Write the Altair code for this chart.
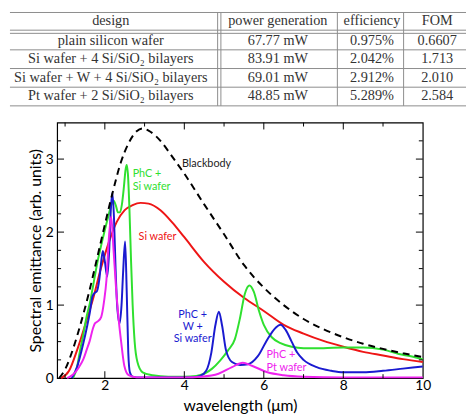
import altair as alt
import pandas as pd

# ---------------- table content ----------------
table_headers = ["design", "power generation", "efficiency", "FOM"]
design = ["plain silicon wafer",
          "Si wafer + 4 Si/SiO\u2082 bilayers",
          "Si wafer + W + 4 Si/SiO\u2082 bilayers",
          "Pt wafer + 2 Si/SiO\u2082 bilayers"]
power = ["67.77 mW", "83.91 mW", "69.01 mW", "48.85 mW"]
efficiency = ["0.975%", "2.042%", "2.912%", "5.289%"]
fom = ["0.6607", "1.713", "2.010", "2.584"]

# ---------------- spectra ----------------
bb_x = [0.85, 1.0, 1.2, 1.4, 1.6, 1.8, 2.0, 2.2, 2.4, 2.6, 2.8, 2.95, 3.1, 3.4, 3.7, 4.0,
        4.5, 5.0, 5.5, 6.0, 6.5, 7.0, 7.5, 8.0, 8.5, 9.0, 9.5, 10.0]
bb_y = [0.0, 0.12, 0.40, 0.76, 1.17, 1.63, 2.1, 2.55, 2.95, 3.22, 3.38, 3.42, 3.39, 3.25, 3.03, 2.80,
        2.38, 1.97, 1.55, 1.24, 1.0, 0.81, 0.67, 0.56, 0.47, 0.40, 0.34, 0.29]

si_x = [0.9, 1.1, 1.3, 1.5, 1.7, 1.9, 2.1, 2.3, 2.5, 2.7, 2.9, 3.1, 3.4, 3.7, 4.0, 4.5,
        5.0, 5.5, 6.0, 6.5, 7.0, 7.5, 8.0, 8.5, 9.0, 9.5, 10.0]
si_y = [0.0, 0.1, 0.38, 0.72, 1.08, 1.5, 1.86, 2.14, 2.30, 2.37, 2.40, 2.39, 2.30, 2.13, 1.93, 1.59,
        1.32, 1.10, 0.92, 0.73, 0.61, 0.51, 0.43, 0.36, 0.31, 0.26, 0.22]

phc_si_x = [1.2, 1.3, 1.38, 1.46, 1.54, 1.62, 1.7, 1.8, 1.9, 2.0, 2.08, 2.15, 2.22, 2.28, 2.33,
            2.38, 2.43, 2.48, 2.52, 2.55, 2.58, 2.62, 2.66, 2.7, 2.75, 2.82, 2.95, 3.2, 3.6, 4.0,
            4.3, 4.5, 4.7, 4.9, 5.1, 5.27, 5.4, 5.52, 5.64, 5.75, 5.88, 6.0, 6.2, 6.42, 6.7,
            7.0, 7.5, 8.0, 8.5, 9.0, 9.4, 9.7, 10.0]
phc_si_y = [0.0, 0.15, 0.39, 0.6, 0.84, 1.02, 1.25, 1.55, 1.8, 2.03, 2.2, 2.35, 2.43, 2.36, 2.27,
            2.27, 2.38, 2.62, 2.85, 2.92, 2.8, 2.3, 1.6, 1.0, 0.5, 0.22, 0.08, 0.04, 0.02, 0.02,
            0.03, 0.06, 0.13, 0.24, 0.38, 0.53, 0.82, 1.15, 1.27, 1.18, 0.92, 0.73, 0.56, 0.48, 0.43,
            0.41, 0.41, 0.42, 0.42, 0.39, 0.33, 0.30, 0.26]

phc_w_x = [1.17, 1.3, 1.46, 1.55, 1.62, 1.69, 1.75, 1.8, 1.86, 1.91, 1.95, 2.0, 2.06, 2.11, 2.15,
           2.19, 2.23, 2.27, 2.31, 2.37, 2.42, 2.46, 2.51, 2.55, 2.59, 2.63, 2.7, 2.8, 3.5, 4.2,
           4.4, 4.55, 4.68, 4.78, 4.87, 4.95, 5.05, 5.2, 5.4, 5.6, 5.85, 6.09, 6.3, 6.42, 6.55,
           6.7, 6.84, 7.0, 7.33, 7.7, 8.0, 8.5, 9.0, 9.5, 10.0]
phc_w_y = [0.0, 0.15, 0.48, 0.7, 0.89, 1.12, 1.17, 1.19, 1.35, 1.6, 1.74, 1.6, 1.39, 1.75, 2.3,
           2.54, 2.2, 1.5, 1.0, 0.75, 1.0, 1.45, 1.87, 1.2, 0.35, 0.08, 0.02, 0.01, 0.01, 0.01,
           0.03, 0.1, 0.35, 0.72, 0.91, 0.72, 0.38, 0.22, 0.18, 0.19, 0.3, 0.53, 0.69, 0.73, 0.66,
           0.5, 0.35, 0.25, 0.15, 0.1, 0.08, 0.08, 0.1, 0.13, 0.16]

phc_pt_x = [1.05, 1.2, 1.35, 1.46, 1.55, 1.62, 1.7, 1.75, 1.83, 1.91, 1.98, 2.04, 2.1, 2.16, 2.22,
            2.28, 2.34, 2.41, 2.49, 2.6, 2.8, 3.5, 4.0, 4.44, 4.86, 5.2, 5.47, 5.7, 6.09, 6.5,
            7.0, 8.0, 9.0, 10.0]
phc_pt_y = [0.0, 0.05, 0.15, 0.26, 0.4, 0.51, 0.68, 0.75, 0.78, 0.84, 1.05, 1.34, 1.9, 2.21, 1.75,
            1.25, 0.85, 0.5, 0.17, 0.04, 0.01, 0.01, 0.01, 0.02, 0.06, 0.15, 0.21, 0.17, 0.08, 0.04,
            0.02, 0.01, 0.01, 0.01]

# annotations
ann_text = ["Blackbody", "PhC +", "Si wafer", "Si wafer", "PhC +", "W +", "Si wafer", "PhC +", "Pt wafer"]
ann_x = [3.94, 2.70, 2.70, 2.85, 4.21, 4.21, 4.21, 6.07, 6.07]
ann_y = [2.93, 2.79, 2.62, 1.93, 0.87, 0.70, 0.53, 0.31, 0.14]

# axis tick values
x_labels = [2, 4, 6, 8, 10]
y_labels = [0, 1, 2, 3]
x_major = [2, 4, 6, 8]
x_minor = [1, 3, 5, 7, 9]
y_major = [1, 2, 3]
y_minor = [0.25, 0.5, 0.75, 1.25, 1.5, 1.75, 2.25, 2.5, 2.75, 3.25]

# ---------------- styles / layout ----------------
C_BB, C_SI, C_G, C_B, C_M = "black", "#ee1515", "#2fe02f", "#1a1ad0", "#ee22ee"
SANS = "Lato"
SERIF = "Liberation Serif"
W, H = 372, 260
TH = 95
MAJ, MIN = 7, 4

# table layout (in table units)
TBL_COL_CENTERS = [105, 279, 377, 445]
TBL_HEADER_Y = 11
TBL_ROW_Y = [31, 49.5, 68.5, 87.5]
TBL_HLINES = [2, 20, 23.2, 40, 59, 78, 97]
TBL_VLINES = [216.3, 219.7, 341, 410]
TBL_X = (0, 475)
TBL_Y = (2, 97)

# ---------------- table chart ----------------
tx = alt.Scale(domain=[49.14, 429.96], nice=False, zero=False)
ty = alt.Scale(domain=[2, 97], nice=False, zero=False, reverse=True)

cells = []
for j, h in enumerate(table_headers):
    cells.append({"tx": TBL_COL_CENTERS[j], "ty": TBL_HEADER_Y, "t": h})
for i in range(len(design)):
    for j, col in enumerate([design, power, efficiency, fom]):
        cells.append({"tx": TBL_COL_CENTERS[j], "ty": TBL_ROW_Y[i], "t": col[i]})
cells_df = pd.DataFrame(cells)

hl_df = pd.DataFrame({"tx": [TBL_X[0]] * len(TBL_HLINES), "tx2": [TBL_X[1]] * len(TBL_HLINES),
                      "ty": TBL_HLINES, "ty2": TBL_HLINES})
vl_df = pd.DataFrame({"tx": TBL_VLINES, "tx2": TBL_VLINES,
                      "ty": [TBL_Y[0]] * len(TBL_VLINES), "ty2": [TBL_Y[1]] * len(TBL_VLINES)})

rules_h = alt.Chart(hl_df).mark_rule(color="#8c8c8c", strokeWidth=1).encode(
    x=alt.X("tx:Q", scale=tx, axis=None), x2="tx2:Q",
    y=alt.Y("ty:Q", scale=ty, axis=None), y2="ty2:Q")
rules_v = alt.Chart(vl_df).mark_rule(color="#8c8c8c", strokeWidth=1).encode(
    x=alt.X("tx:Q", scale=tx, axis=None), x2="tx2:Q",
    y=alt.Y("ty:Q", scale=ty, axis=None), y2="ty2:Q")
cell_text = alt.Chart(cells_df).mark_text(font=SERIF, fontSize=14.5, color="#333333",
                                          align="center", baseline="middle").encode(
    x=alt.X("tx:Q", scale=tx, axis=None),
    y=alt.Y("ty:Q", scale=ty, axis=None),
    text="t:N")

table = alt.layer(rules_h, rules_v, cell_text).properties(
    width=W, height=TH, view=alt.ViewBackground(stroke="transparent"))

# ---------------- spectrum chart ----------------
xs = alt.Scale(domain=[0.8, 10], nice=False, zero=False)
ys = alt.Scale(domain=[0, 3.5], nice=False, zero=False)
x_axis = alt.Axis(values=x_labels, title="wavelength (\u03bcm)", ticks=False, domain=False, grid=False,
                  labelFont=SANS, titleFont=SANS, labelFontSize=14, titleFontSize=16,
                  labelColor="black", titleColor="black", titleFontWeight="normal",
                  labelPadding=1, labelFlush=False, minExtent=0,
                  titleY=28, titleBaseline="middle")
y_axis = alt.Axis(values=y_labels, title="Spectral emittance (arb. units)", ticks=False, domain=False,
                  grid=False, labelFont=SANS, titleFont=SANS, labelFontSize=14, titleFontSize=16,
                  labelColor="black", titleColor="black", titleFontWeight="normal",
                  labelPadding=4, labelFlush=False, minExtent=0,
                  titleX=-22, titleBaseline="middle")
X = alt.X("wl:Q", scale=xs, axis=x_axis)
Y = alt.Y("em:Q", scale=ys, axis=y_axis)


def line_layer(xv, yv, color, dash=None):
    df = pd.DataFrame({"wl": xv, "em": yv})
    kw = dict(color=color, strokeWidth=2, interpolate="monotone")
    if dash:
        kw["strokeDash"] = dash
    return alt.Chart(df).mark_line(**kw).encode(x=X, y=Y)


def xtick_layer(vals, y0, y1):
    return alt.Chart(pd.DataFrame({"wl": vals})).mark_rule(color="black", strokeWidth=1).encode(
        x=X, y=alt.value(y0), y2=alt.value(y1))


def ytick_layer(vals, x0, x1):
    return alt.Chart(pd.DataFrame({"em": vals})).mark_rule(color="black", strokeWidth=1).encode(
        y=Y, x=alt.value(x0), x2=alt.value(x1))


ann_df = pd.DataFrame({"wl": ann_x, "em": ann_y, "t": ann_text,
                       "c": ["#222222", C_G, C_G, C_SI, C_B, C_B, C_B, C_M, C_M],
                       "a": ["l", "l", "l", "l", "c", "c", "c", "l", "l"]})
ann_left = alt.Chart(ann_df).transform_filter(alt.datum.a == "l").mark_text(
    font=SANS, fontSize=11, align="left", baseline="middle").encode(
    x=X, y=Y, text="t:N", color=alt.Color("c:N", scale=None))
ann_center = alt.Chart(ann_df).transform_filter(alt.datum.a == "c").mark_text(
    font=SANS, fontSize=11, align="center", baseline="middle").encode(
    x=X, y=Y, text="t:N", color=alt.Color("c:N", scale=None))

spectrum = alt.layer(
    line_layer(si_x, si_y, C_SI),
    line_layer(phc_si_x, phc_si_y, C_G),
    line_layer(phc_w_x, phc_w_y, C_B),
    line_layer(phc_pt_x, phc_pt_y, C_M),
    line_layer(bb_x, bb_y, C_BB, dash=[7, 5]),
    xtick_layer(x_major, H - MAJ, H), xtick_layer(x_minor, H - MIN, H),
    xtick_layer(x_major, 0, MAJ), xtick_layer(x_minor, 0, MIN),
    ytick_layer(y_major, 0, MAJ), ytick_layer(y_minor, 0, MIN),
    ytick_layer(y_major, W - MAJ, W), ytick_layer(y_minor, W - MIN, W),
    ann_left, ann_center,
).properties(width=W, height=H,
             view=alt.ViewBackground(stroke="black", strokeWidth=1.2))

chart = alt.vconcat(table, spectrum, spacing=14).resolve_scale(
    x="independent", y="independent").resolve_axis(x="independent", y="independent").properties(
    padding={"left": 0, "right": 0, "top": 0, "bottom": 0},
    background="white")

chart.save("out.html", embed_options={"renderer": "svg", "actions": False})
